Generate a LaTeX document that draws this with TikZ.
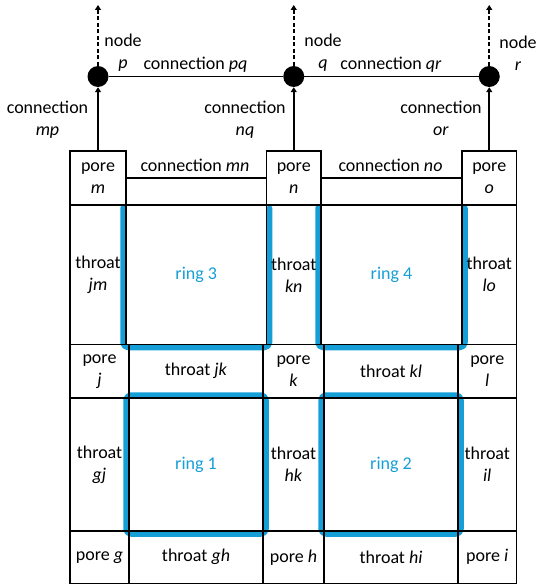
\documentclass[tikz,border=0pt]{standalone}
\usepackage{fontspec}
\setmainfont{Carlito}
\usetikzlibrary{arrows.meta}
\definecolor{ringblue}{RGB}{22,158,215}
\begin{document}
\begin{tikzpicture}[x=1pt,y=-1pt,
  every node/.style={font=\fontsize{18}{22}\selectfont},
  cell/.style={draw, line width=1.9pt, inner sep=0pt, align=center},
  netpt/.style={circle, fill=black, minimum size=21pt, inner sep=0pt},
  conn/.style={line width=1.9pt},
  arr/.style={line width=1.9pt, -{Triangle[length=5pt,width=6pt]}},
  darr/.style={line width=1.9pt, dash pattern=on 4pt off 2.5pt, -{Triangle[length=5pt,width=6pt]}},
  ring/.style={draw=ringblue, line width=5.5pt, rounded corners=5pt, line cap=round, line join=round},
  lbl/.style={align=center, inner sep=0pt}
]
\useasboundingbox (0,0) rectangle (537,586);

% blue rings (drawn first, under the black grid)
\draw[ring] (123,208) -- (123,347.5) -- (269.5,347.5) -- (269.5,208);
\draw[ring] (318,208) -- (318,347.5) -- (465,347.5) -- (465,208);
\draw[ring] (126,395) rectangle (266,534);
\draw[ring] (321,395) rectangle (461,534);

% top row pores
\node[cell, minimum width=56pt, minimum height=54pt] (m) at (98,178) {pore\\\textit{m}};
\node[cell, minimum width=54.5pt, minimum height=54pt] (n) at (293.75,178) {pore\\\textit{n}};
\node[cell, minimum width=54.5pt, minimum height=54pt] (o) at (489.25,178) {pore\\\textit{o}};

% row 2
\node[cell, minimum width=56pt, minimum height=139.5pt] (jm) at (98,274.75) {throat\\\textit{jm}};
\node[cell, minimum width=140.5pt, minimum height=139.5pt, text=ringblue] (ring3) at (196.25,274.75) {ring 3};
\node[cell, minimum width=54.5pt, minimum height=139.5pt] (kn) at (293.75,274.75) {throat\\\textit{kn}};
\node[cell, minimum width=141pt, minimum height=139.5pt, text=ringblue] (ring4) at (391.5,274.75) {ring 4};
\node[cell, minimum width=54.5pt, minimum height=139.5pt] (lo) at (489.25,274.75) {throat\\\textit{lo}};

% row 3
\node[cell, minimum width=59pt, minimum height=53.5pt] (j) at (99.5,371.25) {pore\\\textit{j}};
\node[cell, minimum width=134pt, minimum height=53.5pt] (jk) at (196,371.25) {throat \textit{jk}};
\node[cell, minimum width=61pt, minimum height=53.5pt] (k) at (293.5,371.25) {pore\\\textit{k}};
\node[cell, minimum width=134pt, minimum height=53.5pt] (kl) at (391,371.25) {throat \textit{kl}};
\node[cell, minimum width=58.5pt, minimum height=53.5pt] (l) at (487.25,371.25) {pore\\\textit{l}};

% row 4
\node[cell, minimum width=59pt, minimum height=133pt] (gj) at (99.5,464.5) {throat\\\textit{gj}};
\node[cell, minimum width=134pt, minimum height=133pt, text=ringblue] (ring1) at (196,464.5) {ring 1};
\node[cell, minimum width=61pt, minimum height=133pt] (hk) at (293.5,464.5) {throat\\\textit{hk}};
\node[cell, minimum width=134pt, minimum height=133pt, text=ringblue] (ring2) at (391,464.5) {ring 2};
\node[cell, minimum width=58.5pt, minimum height=133pt] (il) at (487.25,464.5) {throat\\\textit{il}};

% row 5
\node[cell, minimum width=59pt, minimum height=52.5pt] (g) at (99.5,557.25) {pore \textit{g}};
\node[cell, minimum width=134pt, minimum height=52.5pt] (gh) at (196,557.25) {throat \textit{gh}};
\node[cell, minimum width=61pt, minimum height=52.5pt] (h) at (293.5,557.25) {pore \textit{h}};
\node[cell, minimum width=134pt, minimum height=52.5pt] (hi) at (391,557.25) {throat \textit{hi}};
\node[cell, minimum width=58.5pt, minimum height=52.5pt] (i) at (487.25,557.25) {pore \textit{i}};

% connections between top pores
\draw[conn] (m) -- (n);
\draw[conn] (n) -- (o);
\node[anchor=base, inner sep=0pt] (lmn) at (195,171.5) {connection \textit{mn}};
\node[anchor=base, inner sep=0pt] (lno) at (390.5,171.5) {connection \textit{no}};

% network nodes
\node[netpt] (p) at (98,76.5) {};
\node[netpt] (q) at (293.75,76.5) {};
\node[netpt] (r) at (489.25,76.5) {};
\coordinate (ptop) at (98,5);
\coordinate (qtop) at (293.75,5);
\coordinate (rtop) at (489.25,5);

\draw[conn] (p) -- (q);
\draw[conn] (q) -- (r);
\draw[arr] (m) -- (p);
\draw[arr] (n) -- (q);
\draw[arr] (o) -- (r);
\draw[darr] (p) -- (ptop);
\draw[darr] (q) -- (qtop);
\draw[darr] (r) -- (rtop);

% labels
\node[lbl] (lp) at (123,53) {node\\\textit{p}};
\node[lbl] (lq) at (323,53) {node\\\textit{q}};
\node[lbl] (lr) at (518,53) {node\\\textit{r}};
\node[anchor=base, inner sep=0pt] (lpq) at (195.5,70) {connection \textit{pq}};
\node[anchor=base, inner sep=0pt] (lqr) at (391,70) {connection \textit{qr}};
\node[lbl] (lmp) at (47.5,120) {connection\\\textit{mp}};
\node[lbl] (lnq) at (245,120) {connection\\\textit{nq}};
\node[lbl] (lor) at (441,118) {connection\\\textit{or}};
\end{tikzpicture}
\end{document}
